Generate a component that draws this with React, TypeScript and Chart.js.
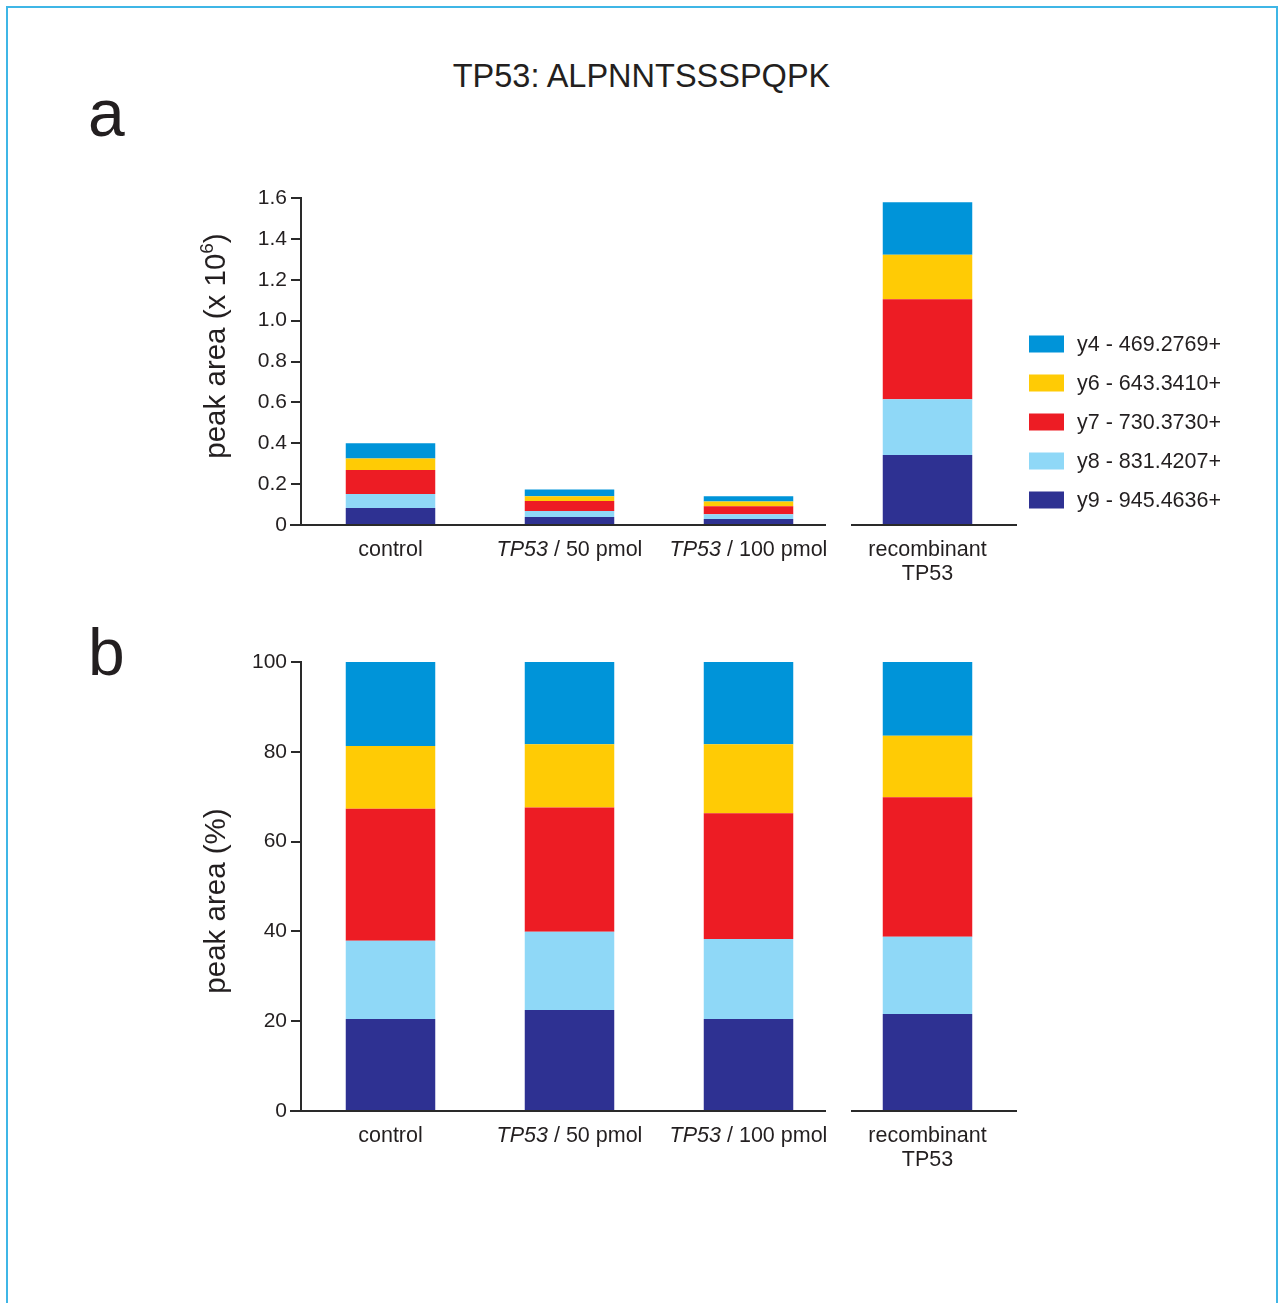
import React, { useEffect, useRef } from "react";
import { Chart, registerables } from "chart.js";

Chart.register(...registerables);

// ---------------- data ----------------
const categories = ["control", "TP53 / 50 pmol", "TP53 / 100 pmol", "recombinant\nTP53"];
// stack order bottom -> top
const seriesLabels = ["y9 - 945.4636+", "y8 - 831.4207+", "y7 - 730.3730+", "y6 - 643.3410+", "y4 - 469.2769+"];
const seriesColors = ["#2e3192", "#8fd8f7", "#ed1c24", "#ffcb05", "#0094d9"];

// panel a: peak area (x 10^6)
const areaY9 = [0.083, 0.039, 0.029, 0.342];
const areaY8 = [0.069, 0.029, 0.024, 0.273];
const areaY7 = [0.117, 0.049, 0.039, 0.489];
const areaY6 = [0.056, 0.024, 0.023, 0.218];
const areaY4 = [0.075, 0.033, 0.026, 0.257];

// panel b: peak area (%)
const pctY9 = [20.5, 22.5, 20.5, 21.6];
const pctY8 = [17.4, 17.4, 17.8, 17.2];
const pctY7 = [29.4, 27.7, 28.0, 31.1];
const pctY6 = [14.0, 14.1, 15.4, 13.7];
const pctY4 = [18.7, 18.3, 18.3, 16.4];

const topTickValues = [0, 0.2, 0.4, 0.6, 0.8, 1.0, 1.2, 1.4, 1.6];
const topTickLabels = ["0", "0.2", "0.4", "0.6", "0.8", "1.0", "1.2", "1.4", "1.6"];
const bottomTickValues = [0, 20, 40, 60, 80, 100];
const bottomTickLabels = ["0", "20", "40", "60", "80", "100"];

const figureTitle = "TP53: ALPNNTSSSPQPK";
const topYTitle = "peak area (x 10^6)";
const bottomYTitle = "peak area (%)";

// ---------------- styles ----------------
const FONT = "'Liberation Sans', Arial, Helvetica, sans-serif";
const TEXT = "#231f20";
const AXIS = "#2a2a2a";

const figurePlugin = {
  id: "figure",
  afterDraw(chart: any, _args: any, opts: any) {
    const { ctx, chartArea } = chart;
    const xs = chart.scales.x;
    const ys = chart.scales.y;
    const y0 = ys.getPixelForValue(0);
    ctx.save();

    // baseline with a break before the last group
    const gapC = (xs.getPixelForValue(opts.breakAfter) + xs.getPixelForValue(opts.breakAfter + 1)) / 2;
    ctx.strokeStyle = AXIS;
    ctx.lineWidth = 2;
    ctx.beginPath();
    ctx.moveTo(chartArea.left - 11, y0);
    ctx.lineTo(gapC - 12, y0);
    ctx.moveTo(gapC + 13, y0);
    ctx.lineTo(chartArea.right, y0);
    ctx.stroke();

    // category labels (italic gene symbol)
    const normal = `21.5px ${FONT}`;
    const italic = `italic 21.5px ${FONT}`;
    ctx.fillStyle = TEXT;
    ctx.textBaseline = "middle";
    categories.forEach((cat, i) => {
      const cx = xs.getPixelForValue(i);
      cat.split("\n").forEach((line, j) => {
        const y = y0 + 25 + j * 24;
        const m = line.match(/^(TP53)( \/ .*)$/);
        if (m) {
          ctx.font = italic;
          const w1 = ctx.measureText(m[1]).width;
          ctx.font = normal;
          const w2 = ctx.measureText(m[2]).width;
          const x = cx - (w1 + w2) / 2;
          ctx.textAlign = "left";
          ctx.font = italic;
          ctx.fillText(m[1], x, y);
          ctx.font = normal;
          ctx.fillText(m[2], x + w1, y);
        } else {
          ctx.textAlign = "center";
          ctx.font = normal;
          ctx.fillText(line, cx, y);
        }
      });
    });

    // rotated y title with optional superscript
    if (opts.yTitle) {
      const fs = 29.5;
      const sfs = 19;
      const parts: { t: string; sup: boolean }[] = [];
      const re = /\^(\d+)/g;
      let last = 0;
      let mm: RegExpExecArray | null;
      while ((mm = re.exec(opts.yTitle))) {
        parts.push({ t: opts.yTitle.slice(last, mm.index), sup: false });
        parts.push({ t: mm[1], sup: true });
        last = mm.index + mm[0].length;
      }
      parts.push({ t: opts.yTitle.slice(last), sup: false });
      let total = 0;
      const widths = parts.map((p) => {
        ctx.font = `${p.sup ? sfs : fs}px ${FONT}`;
        const w = ctx.measureText(p.t).width;
        total += w;
        return w;
      });
      ctx.translate(opts.yTitleX, opts.yTitleY);
      ctx.rotate(-Math.PI / 2);
      ctx.textAlign = "left";
      ctx.textBaseline = "alphabetic";
      let x = -total / 2;
      parts.forEach((p, k) => {
        ctx.font = `${p.sup ? sfs : fs}px ${FONT}`;
        ctx.fillText(p.t, x, p.sup ? -12 : 0);
        x += widths[k];
      });
      ctx.setTransform(1, 0, 0, 1, 0, 0);
    }

    // legend (top to bottom reversed from stack order)
    if (opts.legend) {
      const ds = chart.data.datasets.slice().reverse();
      ctx.font = `21.5px ${FONT}`;
      ctx.textAlign = "left";
      ctx.textBaseline = "middle";
      ds.forEach((d: any, k: number) => {
        const cy = opts.legendY + k * 39;
        ctx.fillStyle = d.backgroundColor;
        ctx.fillRect(opts.legendX, cy - 8.5, 35, 17);
        ctx.fillStyle = TEXT;
        ctx.fillText(d.label, opts.legendX + 48, cy + 1);
      });
    }
    ctx.restore();
  },
};

type Props = {
  top: number;
  height: number;
  padTop: number;
  plotHeight: number;
  series: number[][];
  yMax: number;
  tickValues: number[];
  tickLabels: string[];
  yTitle: string;
  yTitleY: number;
  legend: boolean;
};

function StackedPanel(p: Props) {
  const ref = useRef<HTMLCanvasElement | null>(null);
  useEffect(() => {
    if (!ref.current) return;
    const xAxisHeight = p.height - p.padTop - p.plotHeight;
    const chart = new Chart(ref.current, {
      type: "bar",
      data: {
        labels: categories,
        datasets: seriesLabels.map((label, i) => ({
          label,
          data: p.series[i],
          backgroundColor: seriesColors[i],
          borderWidth: 0,
          barPercentage: 0.5,
          categoryPercentage: 1,
        })),
      },
      options: {
        responsive: false,
        animation: false,
        layout: { padding: { left: 0, right: 266, top: p.padTop, bottom: 0 } },
        plugins: {
          legend: { display: false },
          tooltip: { enabled: false },
          figure: {
            breakAfter: 2,
            yTitle: p.yTitle,
            yTitleX: 225,
            yTitleY: p.yTitleY,
            legend: p.legend,
            legendX: 1029,
            legendY: 174,
          },
        } as any,
        scales: {
          x: {
            stacked: true,
            grid: { display: false },
            border: { display: false },
            ticks: { display: false },
            afterFit: (s: any) => {
              s.height = xAxisHeight;
            },
          },
          y: {
            stacked: true,
            min: 0,
            max: p.yMax,
            afterBuildTicks: (s: any) => {
              s.ticks = p.tickValues.map((v) => ({ value: v }));
            },
            ticks: {
              callback: (_v: any, i: number) => p.tickLabels[i],
              font: { family: FONT, size: 21 },
              color: TEXT,
              padding: 4,
            },
            grid: { drawOnChartArea: false, drawTicks: true, tickLength: 10, color: AXIS, lineWidth: 2 },
            border: { display: true, color: AXIS, width: 2 },
            afterFit: (s: any) => {
              s.width = 301;
            },
          },
        },
      },
      plugins: [figurePlugin as any],
    });
    return () => chart.destroy();
  }, []);
  return (
    <canvas
      ref={ref}
      width={1283}
      height={p.height}
      style={{ position: "absolute", left: 0, top: p.top, width: 1283, height: p.height }}
    />
  );
}

export default function App() {
  return (
    <div
      style={{
        position: "absolute",
        left: 0,
        top: 0,
        width: 1283,
        height: 1303,
        overflow: "hidden",
        background: "#ffffff",
        fontFamily: FONT,
        color: TEXT,
      }}
    >
      <div
        style={{
          position: "absolute",
          left: 6,
          top: 6,
          width: 1272,
          height: 1400,
          boxSizing: "border-box",
          border: "2px solid #3fb6e6",
        }}
      />
      <div
        style={{
          position: "absolute",
          left: 0,
          top: 60,
          width: 1283,
          textAlign: "center",
          fontSize: 32.5,
          lineHeight: "32px",
        }}
      >
        {figureTitle}
      </div>
      <div style={{ position: "absolute", left: 88, top: 80, fontSize: 66, lineHeight: "66px" }}>a</div>
      <div style={{ position: "absolute", left: 88, top: 619, fontSize: 66, lineHeight: "66px" }}>b</div>
      <StackedPanel
        top={170}
        height={440}
        padTop={28}
        plotHeight={327}
        series={[areaY9, areaY8, areaY7, areaY6, areaY4]}
        yMax={1.6}
        tickValues={topTickValues}
        tickLabels={topTickLabels}
        yTitle={topYTitle}
        yTitleY={176}
        legend={true}
      />
      <StackedPanel
        top={630}
        height={570}
        padTop={32}
        plotHeight={449}
        series={[pctY9, pctY8, pctY7, pctY6, pctY4]}
        yMax={100}
        tickValues={bottomTickValues}
        tickLabels={bottomTickLabels}
        yTitle={bottomYTitle}
        yTitleY={271}
        legend={false}
      />
    </div>
  );
}
